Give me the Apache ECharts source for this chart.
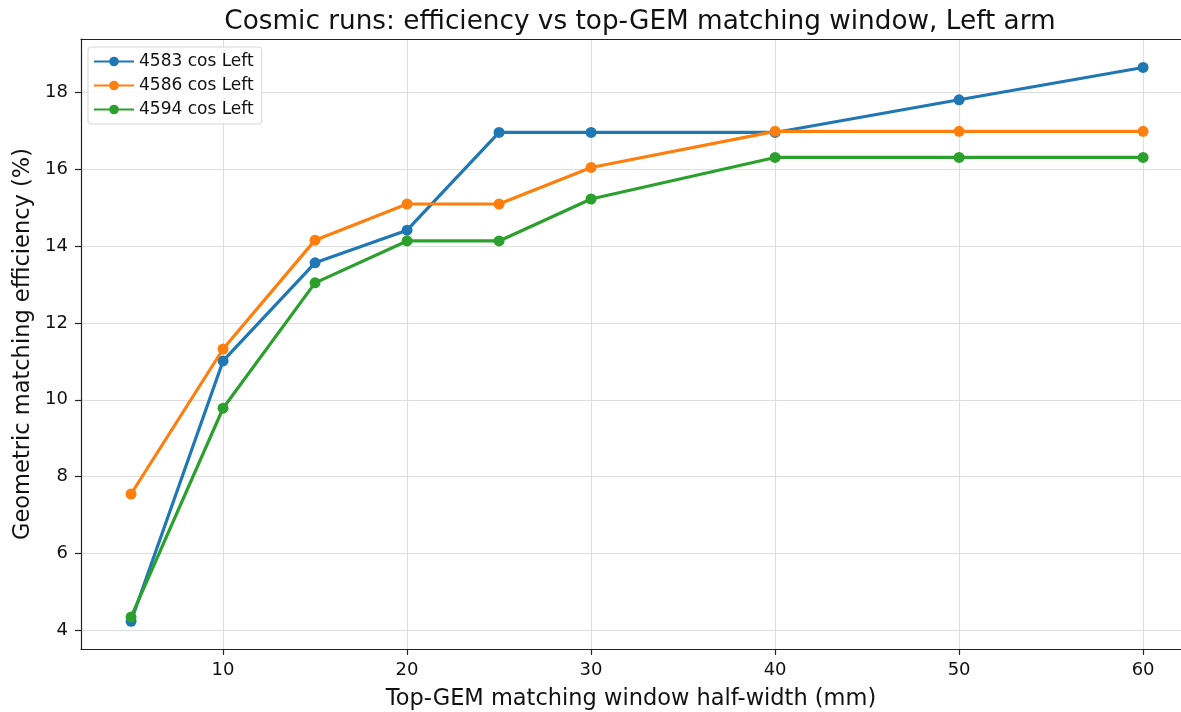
<!DOCTYPE html>
<html>
<head>
<meta charset="utf-8">
<script src="https://cdn.jsdelivr.net/npm/echarts@6/dist/echarts.min.js"></script>
<style>
  html, body { margin: 0; padding: 0; background: #fff; }
  #chart { width: 1181px; height: 712px; }
</style>
</head>
<body>
<div id="chart"></div>
<script>
// Matching window half-widths (mm)
const windows = [5, 10, 15, 20, 25, 30, 40, 50, 60];

// Geometric matching efficiency (%) per run
const run4583 = [4.24, 11.01, 13.56, 14.41, 16.95, 16.95, 16.95, 17.80, 18.64];
const run4586 = [7.55, 11.32, 14.15, 15.09, 15.09, 16.04, 16.98, 16.98, 16.98];
const run4594 = [4.35, 9.78, 13.04, 14.13, 14.13, 15.22, 16.30, 16.30, 16.30];

const seriesNames = ['4583 cos Left', '4586 cos Left', '4594 cos Left'];
const xTicks = [10, 20, 30, 40, 50, 60];
const yTicks = [4, 6, 8, 10, 12, 14, 16, 18];

const colors = ['#1f77b4', '#ff7f0e', '#2ca02c'];
const font = 'DejaVu Sans';

function pairs(ys) { return windows.map((x, i) => [x, ys[i]]); }

const chart = echarts.init(document.getElementById('chart'), null, { renderer: 'canvas' });

const spine = { show: true, onZero: false, lineStyle: { color: '#222', width: 1.2 } };

const axisCommon = {
  axisLine: spine,
  axisTick: { show: true, length: 6, inside: false, lineStyle: { color: '#222', width: 1.2 } },
  splitLine: { show: true, lineStyle: { color: '#dedede', width: 1.1 } },
  nameTextStyle: { fontFamily: font, fontSize: 22.5, color: '#111' }
};

// x range: the plotting frame is cut off at the right edge, so the
// visible upper limit sits just past the last window
const xMin = 2.28, xMax = 62.06;

chart.setOption({
  animation: false,
  backgroundColor: '#fff',
  color: colors,
  title: {
    text: 'Cosmic runs: efficiency vs top-GEM matching window, Left arm',
    left: 635,
    top: 4,
    textAlign: 'center',
    textStyle: { fontFamily: font, fontSize: 26.3, fontWeight: 'normal', color: '#111' }
  },
  grid: {
    left: 81, top: 39, right: 0, bottom: 63,
    show: false, containLabel: false, outerBoundsMode: 'none'
  },
  legend: {
    orient: 'vertical',
    left: 88, top: 47,
    padding: [6, 8, 6, 5],
    itemGap: 7,
    itemWidth: 40, itemHeight: 12,
    backgroundColor: 'rgba(255,255,255,0.85)',
    borderColor: '#d6d6d6', borderWidth: 1, borderRadius: 3,
    textStyle: { fontFamily: font, fontSize: 17, color: '#111' },
    data: seriesNames
  },
  xAxis: [
    Object.assign({}, axisCommon, {
      type: 'value',
      min: xMin, max: xMax,
      name: 'Top-GEM matching window half-width (mm)',
      nameLocation: 'middle',
      nameGap: 39,
      axisTick: Object.assign({}, axisCommon.axisTick, { customValues: xTicks }),
      axisLabel: { customValues: xTicks, margin: 12, fontFamily: font, fontSize: 18, color: '#111' }
    }),
    {
      // top spine
      type: 'value', position: 'top',
      min: xMin, max: xMax,
      axisLine: spine,
      axisTick: { show: false }, axisLabel: { show: false }, splitLine: { show: false }
    }
  ],
  yAxis: Object.assign({}, axisCommon, {
    type: 'value',
    min: 3.52, max: 19.38,
    name: 'Geometric matching efficiency (%)',
    nameLocation: 'middle',
    nameGap: 46,
    axisTick: Object.assign({}, axisCommon.axisTick, { customValues: yTicks }),
    axisLabel: { customValues: yTicks, margin: 13, fontFamily: font, fontSize: 18, color: '#111' }
  }),
  series: [run4583, run4586, run4594].map((ys, i) => ({
    name: seriesNames[i],
    type: 'line',
    data: pairs(ys),
    symbol: 'circle',
    symbolSize: 11,
    lineStyle: { width: 3.2, color: colors[i] },
    itemStyle: { color: colors[i] },
    z: 3 + i
  }))
});
</script>
</body>
</html>
